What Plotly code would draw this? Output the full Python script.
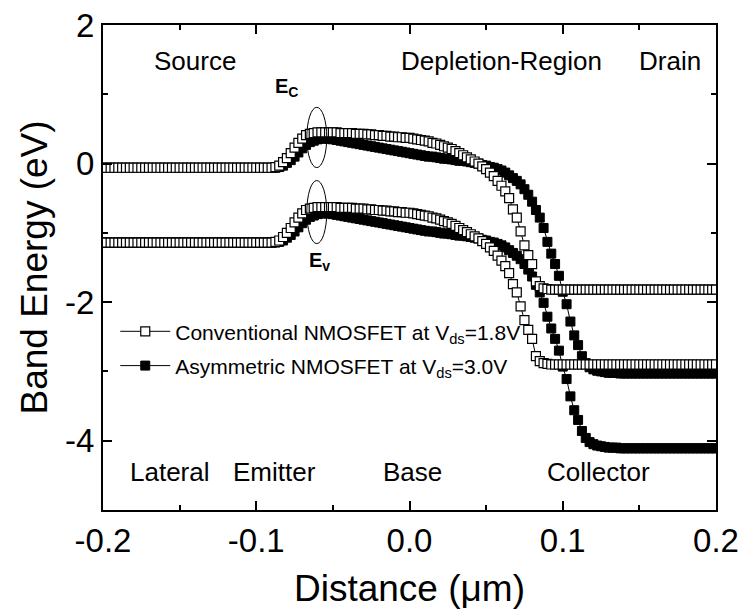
import numpy as np
import plotly.graph_objects as go

# simulation mesh (um): -0.2 .. 0.2, step 0.0025  (161 nodes)
x = np.round(np.linspace(-0.2, 0.2, 161), 4)

conv_ec = [
    -0.06, -0.06, -0.06, -0.06, -0.06, -0.06, -0.06, -0.06, -0.06, -0.06,
    -0.06, -0.06, -0.06, -0.06, -0.06, -0.06, -0.06, -0.06, -0.06, -0.06,
    -0.06, -0.06, -0.06, -0.06, -0.06, -0.06, -0.06, -0.06, -0.06, -0.06,
    -0.06, -0.06, -0.06, -0.06, -0.06, -0.06, -0.06, -0.06, -0.06, -0.06,
    -0.06, -0.06, -0.06, -0.06, -0.06,
    -0.05, -0.03, 0.02, 0.08, 0.15, 0.23, 0.30, 0.36, 0.41, 0.43, 0.44, 0.45,
    0.45, 0.45, 0.45, 0.45, 0.45, 0.44,
    0.44, 0.44, 0.44, 0.43, 0.43,
    0.43, 0.42, 0.42, 0.41, 0.41,
    0.40, 0.40, 0.39, 0.39, 0.38,
    0.38, 0.37, 0.37, 0.36, 0.35,
    0.34, 0.33, 0.32, 0.30, 0.29,
    0.27, 0.25, 0.23, 0.21, 0.18,
    0.15, 0.12, 0.09, 0.06, 0.03,
    0.00, -0.04, -0.08, -0.13, -0.18,
    -0.25, -0.32, -0.40, -0.50, -0.66,
    -0.78, -0.98, -1.18, -1.32, -1.45,
    -1.70, -1.77, -1.80, -1.81,
    -1.82, -1.82, -1.82, -1.82, -1.82, -1.82, -1.82, -1.82, -1.82, -1.82,
    -1.82, -1.82, -1.82, -1.82, -1.82, -1.82, -1.82, -1.82, -1.82, -1.82,
    -1.82, -1.82, -1.82, -1.82, -1.82, -1.82, -1.82, -1.82, -1.82, -1.82,
    -1.82, -1.82, -1.82, -1.82, -1.82, -1.82, -1.82, -1.82, -1.82, -1.82,
    -1.82, -1.82, -1.82, -1.82,
]

conv_ev = [
    -1.14, -1.14, -1.14, -1.14, -1.14, -1.14, -1.14, -1.14, -1.14, -1.14,
    -1.14, -1.14, -1.14, -1.14, -1.14, -1.14, -1.14, -1.14, -1.14, -1.14,
    -1.14, -1.14, -1.14, -1.14, -1.14, -1.14, -1.14, -1.14, -1.14, -1.14,
    -1.14, -1.14, -1.14, -1.14, -1.14, -1.14, -1.14, -1.14, -1.14, -1.14,
    -1.14, -1.14, -1.14, -1.14, -1.14,
    -1.13, -1.11, -1.06, -1.00, -0.93, -0.85, -0.78, -0.72, -0.67, -0.65, -0.64, -0.63,
    -0.63, -0.63, -0.63, -0.63, -0.63, -0.64,
    -0.64, -0.64, -0.64, -0.65, -0.65,
    -0.65, -0.66, -0.66, -0.67, -0.67,
    -0.68, -0.68, -0.69, -0.69, -0.70,
    -0.70, -0.71, -0.71, -0.72, -0.73,
    -0.74, -0.75, -0.76, -0.78, -0.79,
    -0.81, -0.83, -0.85, -0.87, -0.90,
    -0.93, -0.96, -0.99, -1.02, -1.05,
    -1.08, -1.12, -1.16, -1.21, -1.26,
    -1.33, -1.40, -1.48, -1.58, -1.74,
    -1.86, -2.06, -2.26, -2.40, -2.53,
    -2.78, -2.85, -2.88, -2.89,
    -2.90, -2.90, -2.90, -2.90, -2.90, -2.90, -2.90, -2.90, -2.90, -2.90,
    -2.90, -2.90, -2.90, -2.90, -2.90, -2.90, -2.90, -2.90, -2.90, -2.90,
    -2.90, -2.90, -2.90, -2.90, -2.90, -2.90, -2.90, -2.90, -2.90, -2.90,
    -2.90, -2.90, -2.90, -2.90, -2.90, -2.90, -2.90, -2.90, -2.90, -2.90,
    -2.90, -2.90, -2.90, -2.90,
]

asym_ec = [
    -0.06, -0.06, -0.06, -0.06, -0.06, -0.06, -0.06, -0.06, -0.06, -0.06,
    -0.06, -0.06, -0.06, -0.06, -0.06, -0.06, -0.06, -0.06, -0.06, -0.06,
    -0.06, -0.06, -0.06, -0.06, -0.06, -0.06, -0.06, -0.06, -0.06, -0.06,
    -0.06, -0.06, -0.06, -0.06, -0.06, -0.06, -0.06, -0.06, -0.06, -0.06,
    -0.06, -0.06, -0.06, -0.06, -0.06,
    -0.06, -0.05, -0.03, 0.01, 0.05, 0.10, 0.16, 0.22, 0.27, 0.31, 0.33, 0.35,
    0.36, 0.36, 0.36, 0.35, 0.34, 0.33,
    0.32, 0.31, 0.30, 0.29, 0.28,
    0.27, 0.26, 0.25, 0.24, 0.23,
    0.22, 0.21, 0.20, 0.19, 0.18,
    0.17, 0.16, 0.15, 0.14, 0.13,
    0.12, 0.11, 0.10, 0.10, 0.09,
    0.08, 0.07, 0.07, 0.06, 0.05,
    0.04, 0.04, 0.03, 0.02, 0.01,
    0.00, -0.02, -0.03, -0.05, -0.06,
    -0.08, -0.10, -0.13, -0.17, -0.21,
    -0.25, -0.30, -0.37, -0.45, -0.55,
    -0.67, -0.78, -0.93, -1.13,
    -1.30, -1.45, -1.62, -1.85, -2.03, -2.28, -2.48, -2.62, -2.78, -2.88,
    -2.94, -2.97, -2.99, -3.00, -3.01, -3.02,
    -3.02, -3.02, -3.03, -3.03, -3.03, -3.03, -3.03, -3.03, -3.03, -3.03,
    -3.03, -3.03, -3.03, -3.03, -3.03, -3.03, -3.03, -3.03, -3.03, -3.03,
    -3.03, -3.03, -3.03, -3.03, -3.03, -3.03, -3.03, -3.03,
]

asym_ev = [
    -1.14, -1.14, -1.14, -1.14, -1.14, -1.14, -1.14, -1.14, -1.14, -1.14,
    -1.14, -1.14, -1.14, -1.14, -1.14, -1.14, -1.14, -1.14, -1.14, -1.14,
    -1.14, -1.14, -1.14, -1.14, -1.14, -1.14, -1.14, -1.14, -1.14, -1.14,
    -1.14, -1.14, -1.14, -1.14, -1.14, -1.14, -1.14, -1.14, -1.14, -1.14,
    -1.14, -1.14, -1.14, -1.14, -1.14,
    -1.14, -1.13, -1.11, -1.07, -1.03, -0.98, -0.92, -0.86, -0.81, -0.77, -0.75, -0.73,
    -0.72, -0.72, -0.72, -0.73, -0.74, -0.75,
    -0.76, -0.77, -0.78, -0.79, -0.80,
    -0.81, -0.82, -0.83, -0.84, -0.85,
    -0.86, -0.87, -0.88, -0.89, -0.90,
    -0.91, -0.92, -0.93, -0.94, -0.95,
    -0.96, -0.97, -0.98, -0.98, -0.99,
    -1.00, -1.01, -1.01, -1.02, -1.03,
    -1.04, -1.04, -1.05, -1.06, -1.07,
    -1.08, -1.10, -1.11, -1.13, -1.14,
    -1.16, -1.18, -1.21, -1.25, -1.29,
    -1.33, -1.38, -1.45, -1.53, -1.63,
    -1.75, -1.86, -2.01, -2.21,
    -2.38, -2.53, -2.70, -2.93, -3.11, -3.36, -3.56, -3.70, -3.86, -3.96,
    -4.02, -4.05, -4.07, -4.08, -4.09, -4.10,
    -4.10, -4.10, -4.11, -4.11, -4.11, -4.11, -4.11, -4.11, -4.11, -4.11,
    -4.11, -4.11, -4.11, -4.11, -4.11, -4.11, -4.11, -4.11, -4.11, -4.11,
    -4.11, -4.11, -4.11, -4.11, -4.11, -4.11, -4.11, -4.11,
]

names = ["Conventional NMOSFET at V<sub>ds</sub>=1.8V",
         "Asymmetric NMOSFET at V<sub>ds</sub>=3.0V"]

x_ticks = [-0.2, -0.1, 0.0, 0.1, 0.2]
x_ticktext = ["-0.2", "-0.1", "0.0", "0.1", "0.2"]
y_ticks = [2, 0, -2, -4]
y_ticktext = ["2", "0", "-2", "-4"]

FONT = "Liberation Sans, Arial, sans-serif"

fig = go.Figure()

filled = dict(symbol="square", size=9, color="black", line=dict(color="black", width=1))
opened = dict(symbol="square", size=9, color="white", line=dict(color="black", width=1.2))

fig.add_trace(go.Scatter(x=x, y=asym_ev, mode="lines+markers", line=dict(color="black", width=1),
                         marker=filled, showlegend=False, legendgroup="b"))
fig.add_trace(go.Scatter(x=x, y=asym_ec, mode="lines+markers", line=dict(color="black", width=1),
                         marker=filled, name=names[1], legendgroup="b", legendrank=2))
fig.add_trace(go.Scatter(x=x, y=conv_ev, mode="lines+markers", line=dict(color="black", width=1),
                         marker=opened, showlegend=False, legendgroup="a"))
fig.add_trace(go.Scatter(x=x, y=conv_ec, mode="lines+markers", line=dict(color="black", width=1),
                         marker=opened, name=names[0], legendgroup="a", legendrank=1))

labels = [
    ("Source", -0.140, 1.48), ("Depletion-Region", 0.060, 1.48), ("Drain", 0.170, 1.48),
    ("Lateral", -0.156, -4.45), ("Emitter", -0.088, -4.45), ("Base", 0.002, -4.45),
    ("Collector", 0.123, -4.45),
]
annotations = [dict(x=a, y=b, text=t, showarrow=False, xref="x", yref="y",
                    font=dict(family=FONT, size=26, color="black")) for t, a, b in labels]
annotations.append(dict(x=-0.0805, y=1.1, text="<b>E<sub>C</sub></b>", showarrow=False,
                        font=dict(family=FONT, size=20, color="black")))
annotations.append(dict(x=-0.0585, y=-1.42, text="<b>E<sub>v</sub></b>", showarrow=False,
                        font=dict(family=FONT, size=20, color="black")))

shapes = [
    dict(type="circle", xref="x", yref="y", x0=-0.067, x1=-0.054, y0=-0.058, y1=0.812,
         line=dict(color="black", width=1)),
    dict(type="circle", xref="x", yref="y", x0=-0.067, x1=-0.054, y0=-1.155, y1=-0.245,
         line=dict(color="black", width=1)),
]

axis_common = dict(showline=True, linecolor="black", linewidth=2, mirror="allticks",
                   ticks="inside", ticklen=9, tickwidth=1.5, tickcolor="black",
                   showgrid=False, zeroline=False, automargin=False,
                   tickfont=dict(family=FONT, size=33, color="black"))

fig.update_layout(
    width=745, height=615,
    margin=dict(l=103, r=29, t=25, b=105),
    paper_bgcolor="white", plot_bgcolor="white",
    font=dict(family=FONT, color="black"),
    xaxis=dict(range=[-0.2, 0.2], tickvals=x_ticks, ticktext=x_ticktext,
               minor=dict(ticks="inside", ticklen=5, dtick=0.05, tickcolor="black", tickwidth=1.5),
               title=dict(text="Distance (μm)", font=dict(family=FONT, size=37), standoff=18),
               **axis_common),
    yaxis=dict(range=[-5, 2], tickvals=y_ticks, ticktext=y_ticktext,
               minor=dict(ticks="inside", ticklen=5, dtick=1, tickcolor="black", tickwidth=1.5),
               title=dict(text="Band Energy (eV)", font=dict(family=FONT, size=37), standoff=6),
               **axis_common),
    legend=dict(x=0.02, y=0.41, xanchor="left", yanchor="top", bgcolor="rgba(0,0,0,0)",
                font=dict(family=FONT, size=21, color="black"), traceorder="grouped",
                tracegroupgap=4, itemwidth=50),
    annotations=annotations,
    shapes=shapes,
)

fig.write_html("out.html")
